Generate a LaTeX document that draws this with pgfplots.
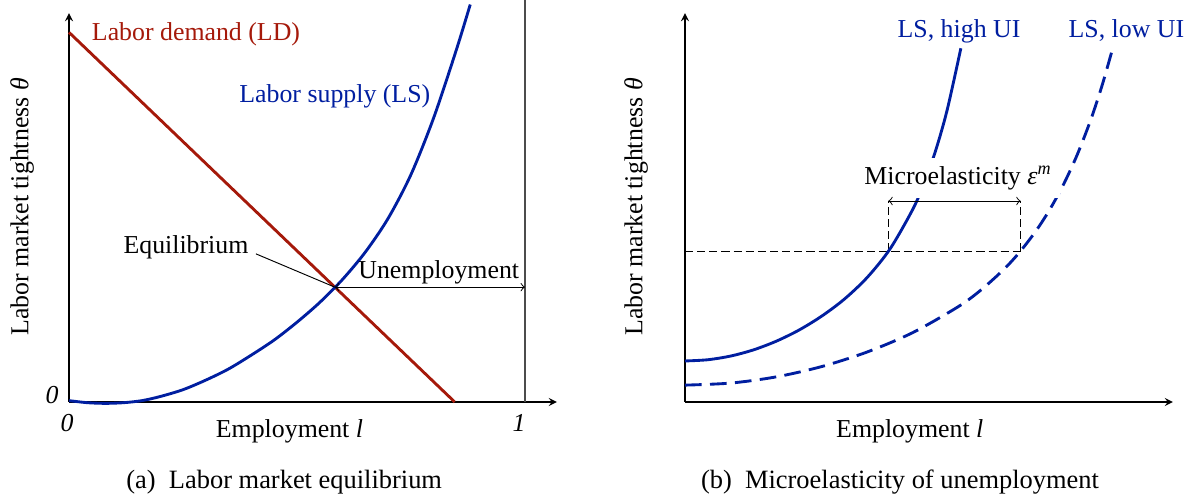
\documentclass[border=0pt]{standalone}
\usepackage{fontspec}
\setmainfont{Liberation Serif}
\usepackage{pgfplots}
\pgfplotsset{compat=1.18}

\definecolor{ldred}{RGB}{165,25,10}
\definecolor{lsblue}{RGB}{0,30,160}

\pgfplotsset{
  panel/.style={
    scale only axis, width=204.9pt, height=163.3pt,
    xmin=0, xmax=1.07, ymin=0, ymax=0.853,
    axis lines=left, xtick=\empty, ytick=\empty,
    axis line style={line width=0.5pt},
    clip=false,
  },
  curve/.style={line width=1.2pt, smooth},
}
\tikzset{capt/.style={anchor=base, font=\fontsize{11.1}{13}\selectfont}}

\begin{document}
\fontsize{10.85}{13}\selectfont
\begin{tikzpicture}
\path[use as bounding box] (-28.98pt,-42pt) rectangle (473.34pt,168.84pt);

% (a) labor market equilibrium
\begin{axis}[panel, at={(0pt,0pt)}, anchor=south west]
  \addplot[black!70, line width=0.5pt] coordinates {(1,0) (1,0.882)};
  \addplot[ldred, line width=1.2pt] coordinates {(0,0.811) (0.846,0)};
  \addplot[lsblue, curve] coordinates {
    (0,0.003) (0.04,-0.0015) (0.08,-0.003) (0.12,-0.0015) (0.16,0.003)
    (0.2,0.012) (0.25,0.027) (0.3,0.048) (0.35,0.0725) (0.4,0.103)
    (0.45,0.136) (0.5,0.175) (0.55,0.2185) (0.6,0.269) (0.65,0.329)
    (0.7,0.403) (0.75,0.499) (0.8,0.624) (0.85,0.774) (0.88,0.872)};
  \draw[<->, line width=0.4pt] (axis cs:0.583,0.252) -- (axis cs:1,0.252);
  \draw[line width=0.4pt] (axis cs:0.41,0.325) -- (axis cs:0.583,0.252);

  \node[ldred, anchor=base] at (axis cs:0.2785,0.794) {Labor demand (LD)};
  \node[lsblue, anchor=base] at (axis cs:0.583,0.658) {Labor supply (LS)};
  \node[anchor=base] at (axis cs:0.2566,0.326) {Equilibrium};
  \node[anchor=base] at (axis cs:0.811,0.272) {Unemployment};

  \node at (axis cs:-0.037,0.015) {\textit{0}};
  \node at (axis cs:-0.004,-0.046) {\textit{0}};
  \node at (axis cs:0.987,-0.046) {\textit{1}};
  \node[anchor=base] at (axis cs:0.4836,-0.077) {Employment \textit{l}};
  \node[rotate=90] at (axis cs:-0.103,0.428) {Labor market tightness \textit{θ}};
  \node[capt] at (axis cs:0.472,-0.189) {(a)\enspace Labor market equilibrium};
\end{axis}

% (b) microelasticity of unemployment
\begin{axis}[panel, at={(258.72pt,0pt)}, anchor=south west]
  \draw[dash pattern=on 3.4pt off 1.7pt, line width=0.4pt]
    (axis cs:0,0.331) -- (axis cs:0.736,0.331)
    (axis cs:0.446,0.331) -- (axis cs:0.446,0.441)
    (axis cs:0.736,0.331) -- (axis cs:0.736,0.441);
  \addplot[lsblue, curve] coordinates {
    (0,0.0900) (0.05,0.0927) (0.1,0.1008) (0.15,0.1143) (0.2,0.1333)
    (0.25,0.1578) (0.3,0.1885) (0.35,0.2261) (0.4,0.2737) (0.45,0.3363)
    (0.5,0.4236) (0.525,0.4814) (0.55,0.5526) (0.575,0.6408) (0.605,0.776)};
  \addplot[lsblue, curve, dash pattern=on 7pt off 3.5pt] coordinates {
    (0,0.037) (0.1,0.0415) (0.2,0.0551) (0.3,0.0778) (0.4,0.1099)
    (0.5,0.1525) (0.6,0.2096) (0.65,0.2465) (0.7,0.2917) (0.735,0.3301)
    (0.77,0.3758) (0.8,0.4222) (0.83,0.4770) (0.86,0.5420) (0.89,0.6194)
    (0.915,0.6953) (0.938,0.776)};
  \node[anchor=base, fill=white] at (axis cs:0.599,0.478) {Microelasticity \textit{ε}\textsuperscript{\textit{m}}};
  \draw[<->, line width=0.4pt] (axis cs:0.446,0.441) -- (axis cs:0.736,0.441);

  \node[lsblue, anchor=base] at (axis cs:0.601,0.800) {LS, high UI};
  \node[lsblue, anchor=base] at (axis cs:0.968,0.800) {LS, low UI};

  \node[anchor=base] at (axis cs:0.493,-0.077) {Employment \textit{l}};
  \node[rotate=90] at (axis cs:-0.107,0.428) {Labor market tightness \textit{θ}};
  \node[capt] at (axis cs:0.4715,-0.189) {(b)\enspace Microelasticity of unemployment};
\end{axis}
\end{tikzpicture}
\end{document}
